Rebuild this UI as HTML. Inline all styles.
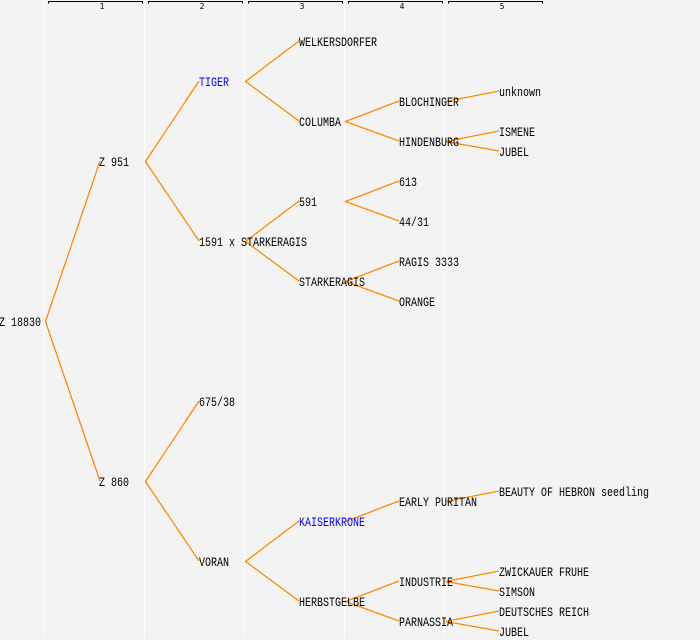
<!DOCTYPE html>
<html><head><meta charset="utf-8"><style>
html,body{margin:0;padding:0;background:#f3f3f3}
svg{display:block}
text{font-family:"Liberation Mono",monospace;font-size:13px;fill:#000;white-space:pre}
.b{fill:#0000ff}
.n{font-family:"DejaVu Sans Mono",monospace;font-size:8px;text-anchor:middle}
</style></head><body>
<svg width="700" height="640" viewBox="0 0 700 640" xmlns="http://www.w3.org/2000/svg">
<rect width="700" height="640" fill="#f3f3f3"/>
<g fill="#ffffff"><rect x="44" y="0" width="1" height="638"/><rect x="144" y="0" width="1" height="638"/><rect x="244" y="0" width="1" height="638"/><rect x="344" y="0" width="1" height="638"/><rect x="444" y="0" width="1" height="638"/></g>
<g stroke="#000" fill="none" shape-rendering="crispEdges">
<path d="M48.5 3.5V1.5H142.5V3.5"/><path d="M148.5 3.5V1.5H242.5V3.5"/><path d="M248.5 3.5V1.5H342.5V3.5"/><path d="M348.5 3.5V1.5H442.5V3.5"/><path d="M448.5 3.5V1.5H542.5V3.5"/>
</g>
<text class="n" x="102" y="9">1</text><text class="n" x="202" y="9">2</text><text class="n" x="302" y="9">3</text><text class="n" x="402" y="9">4</text><text class="n" x="502" y="9">5</text>
<g stroke="#ff8c00" stroke-width="1.3" fill="none" shape-rendering="crispEdges">
<path d="M100 161L45.5 321.5L100 481"/>
<path d="M199 81L145.5 161.5L199 241"/>
<path d="M199 401L145.5 481.5L199 561"/>
<path d="M299 41L245.5 81.5L299 121"/>
<path d="M299 201L245.5 241.5L299 281"/>
<path d="M299 521L245.5 561.5L299 601"/>
<path d="M399 101L345.5 121.5L399 141"/>
<path d="M399 181L345.5 201.5L399 221"/>
<path d="M399 261L345.5 281.5L399 301"/>
<path d="M399 501L345.5 521.5"/>
<path d="M399 581L345.5 601.5L399 621"/>
<path d="M499 91L445.5 101.5"/>
<path d="M499 131L445.5 141.5L499 151"/>
<path d="M499 491L445.5 501.5"/>
<path d="M499 571L445.5 581.5L499 591"/>
<path d="M499 611L445.5 621.5L499 631"/>
</g>
<g lengthAdjust="spacingAndGlyphs">
<text lengthAdjust="spacingAndGlyphs" textLength="42" x="-1" y="326">Z 18830</text>
<text lengthAdjust="spacingAndGlyphs" textLength="30" x="99" y="166">Z 951</text>
<text lengthAdjust="spacingAndGlyphs" textLength="30" x="99" y="486">Z 860</text>
<text lengthAdjust="spacingAndGlyphs" textLength="30" x="199" y="86" class="b">TIGER</text>
<text lengthAdjust="spacingAndGlyphs" textLength="108" x="199" y="246">1591 x STARKERAGIS</text>
<text lengthAdjust="spacingAndGlyphs" textLength="36" x="199" y="406">675/38</text>
<text lengthAdjust="spacingAndGlyphs" textLength="30" x="199" y="566">VORAN</text>
<text lengthAdjust="spacingAndGlyphs" textLength="78" x="299" y="46">WELKERSDORFER</text>
<text lengthAdjust="spacingAndGlyphs" textLength="42" x="299" y="126">COLUMBA</text>
<text lengthAdjust="spacingAndGlyphs" textLength="18" x="299" y="206">591</text>
<text lengthAdjust="spacingAndGlyphs" textLength="66" x="299" y="286">STARKERAGIS</text>
<text lengthAdjust="spacingAndGlyphs" textLength="66" x="299" y="526" class="b">KAISERKRONE</text>
<text lengthAdjust="spacingAndGlyphs" textLength="66" x="299" y="606">HERBSTGELBE</text>
<text lengthAdjust="spacingAndGlyphs" textLength="60" x="399" y="106">BLOCHINGER</text>
<text lengthAdjust="spacingAndGlyphs" textLength="60" x="399" y="146">HINDENBURG</text>
<text lengthAdjust="spacingAndGlyphs" textLength="18" x="399" y="186">613</text>
<text lengthAdjust="spacingAndGlyphs" textLength="30" x="399" y="226">44/31</text>
<text lengthAdjust="spacingAndGlyphs" textLength="60" x="399" y="266">RAGIS 3333</text>
<text lengthAdjust="spacingAndGlyphs" textLength="36" x="399" y="306">ORANGE</text>
<text lengthAdjust="spacingAndGlyphs" textLength="78" x="399" y="506">EARLY PURITAN</text>
<text lengthAdjust="spacingAndGlyphs" textLength="54" x="399" y="586">INDUSTRIE</text>
<text lengthAdjust="spacingAndGlyphs" textLength="54" x="399" y="626">PARNASSIA</text>
<text lengthAdjust="spacingAndGlyphs" textLength="42" x="499" y="96">unknown</text>
<text lengthAdjust="spacingAndGlyphs" textLength="36" x="499" y="136">ISMENE</text>
<text lengthAdjust="spacingAndGlyphs" textLength="30" x="499" y="156">JUBEL</text>
<text lengthAdjust="spacingAndGlyphs" textLength="150" x="499" y="496">BEAUTY OF HEBRON seedling</text>
<text lengthAdjust="spacingAndGlyphs" textLength="90" x="499" y="576">ZWICKAUER FRUHE</text>
<text lengthAdjust="spacingAndGlyphs" textLength="36" x="499" y="596">SIMSON</text>
<text lengthAdjust="spacingAndGlyphs" textLength="90" x="499" y="616">DEUTSCHES REICH</text>
<text lengthAdjust="spacingAndGlyphs" textLength="30" x="499" y="636">JUBEL</text>
</g>
</svg>
</body></html>
